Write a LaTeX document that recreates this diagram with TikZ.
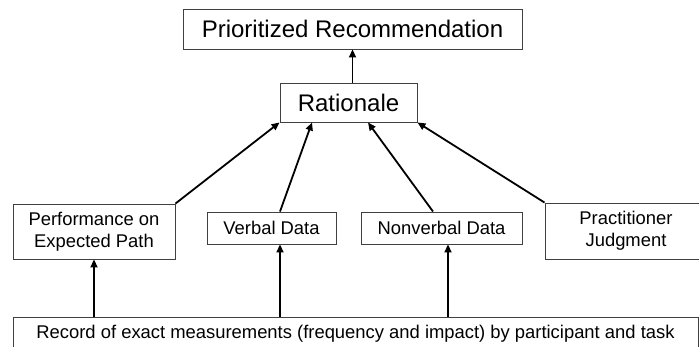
\documentclass[tikz,border=0pt]{standalone}
\usepackage{fontspec}
\setmainfont{Liberation Sans}
\usetikzlibrary{arrows.meta}
\begin{document}
\begin{tikzpicture}[x=1pt,y=-1pt,
  box/.style={draw=black!75,line width=0.9pt,fill=white,inner sep=0pt,align=center},
  big/.style={box,font=\fontsize{24}{28}\selectfont},
  small/.style={box,font=\fontsize{18.4}{22}\selectfont},
  arr/.style={line width=1.8pt,-{Triangle[length=8pt,width=7pt]}}]
\clip (0,0) rectangle (699,347);
\fill[white] (0,0) rectangle (699,347);
\node[big,minimum width=339pt,minimum height=40pt] (pr) at (352.5,29) {Prioritized Recommendation};
\node[big,minimum width=137pt,minimum height=39pt] (rat) at (348.5,102.5) {Rationale};
\node[small,minimum width=162pt,minimum height=55pt] (perf) at (94,231.5) {Performance on\\Expected Path};
\node[small,minimum width=129pt,minimum height=32pt] (verb) at (271.5,228) {Verbal Data};
\node[small,minimum width=161pt,minimum height=32pt] (nonv) at (441.5,228) {Nonverbal Data};
\node[small,minimum width=162pt,minimum height=56pt] (prac) at (626,231) {Practitioner\\Judgment};
\node[small,minimum width=685pt,minimum height=34pt] (rec) at (355.5,334) {Record of exact measurements (frequency and impact) by participant and task};
\coordinate (vx) at (280,0);
\coordinate (ntop) at (433,0);
\coordinate (nbot) at (448,0);
\coordinate (rx2) at (312,0);
\coordinate (rx3) at (368,0);
\draw[arr] (pr.south |- rat.north) -- (pr.south);
\draw[arr] (perf.north east) -- (rat.south west);
\draw[arr] (vx |- verb.north) -- (rx2 |- rat.south);
\draw[arr] (ntop |- nonv.north) -- (rx3 |- rat.south);
\draw[arr] (prac.north west) -- (rat.south east);
\draw[arr] (perf.south |- rec.north) -- (perf.south);
\draw[arr] (vx |- rec.north) -- (vx |- verb.south);
\draw[arr] (nbot |- rec.north) -- (nbot |- nonv.south);
\end{tikzpicture}
\end{document}
